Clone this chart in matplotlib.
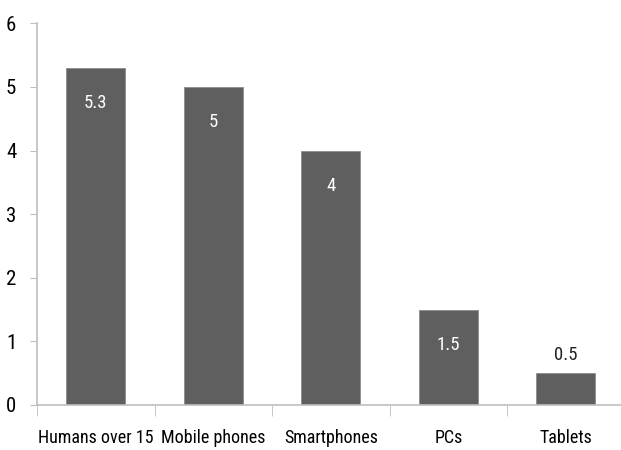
import matplotlib
matplotlib.use("Agg")
import matplotlib.pyplot as plt
import numpy as np

categories = ["Humans over 15", "Mobile phones", "Smartphones", "PCs", "Tablets"]
values = [5.3, 5, 4, 1.5, 0.5]
value_labels = ["5.3", "5", "4", "1.5", "0.5"]

plt.rcParams['font.family'] = ['Roboto Condensed', 'DejaVu Sans']

fig = plt.figure(figsize=(6.21, 4.5), dpi=100)
ax = fig.add_axes([37/621, 45/450, 1 - 37/621, (405 - 23.3)/450])

x = np.arange(len(categories))
bars = ax.bar(x, values, width=0.5, color='#5f5f5f', edgecolor='#8c8c8c', linewidth=0.6)

# value labels: inside the bar in white, above it when the bar is short
for xi, v, lab in zip(x, values, value_labels):
    if v > 1:
        ax.text(xi, v - 0.55, lab, ha='center', va='center', color='white', fontsize=13.5)
    else:
        ax.text(xi, v + 0.28, lab, ha='center', va='center', color='#222222', fontsize=13.5)

ax.set_xlim(-0.5, 4.47)
ax.set_ylim(0, 6)
ax.set_yticks(range(7))
ax.set_xticks(x)
ax.set_xticklabels(categories, fontsize=13)
ax.set_xticks(np.arange(-0.5, 4.5, 1), minor=True)
ax.tick_params(axis='x', which='major', length=0, pad=17)
ax.tick_params(axis='x', which='minor', length=8, color='#bfbfbf', direction='out')
ax.tick_params(axis='y', length=5, color='#bfbfbf', labelsize=15, pad=10)
for s in ['top', 'right']:
    ax.spines[s].set_visible(False)
for s in ['left', 'bottom']:
    ax.spines[s].set_color('#bfbfbf')
    ax.spines[s].set_linewidth(1.2)

fig.savefig("out.png", dpi=100)
